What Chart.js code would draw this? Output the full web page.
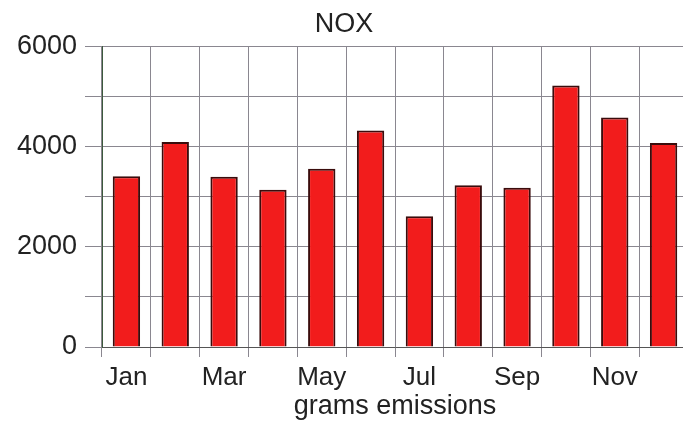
<!DOCTYPE html>
<html>
<head>
<meta charset="utf-8">
<script src="https://cdn.jsdelivr.net/npm/chart.js@4"></script>
<style>
  html, body { margin: 0; padding: 0; background: #fff; overflow: hidden; }
  #wrap { width: 700px; height: 423px; }
</style>
</head>
<body>
<div id="wrap"><canvas id="noxChart" width="700" height="423"></canvas></div>
<script>
// chart data
const months = ["Jan", "Feb", "Mar", "Apr", "May", "Jun", "Jul", "Aug", "Sep", "Oct", "Nov", "Dec"];
const noxValues = [3410, 4090, 3400, 3140, 3560, 4320, 2610, 3230, 3180, 5220, 4580, 4070];
const labelledMonths = ["Jan", "Mar", "May", "Jul", "Sep", "Nov"];
const yLabelValues = [0, 2000, 4000, 6000];

const FONT = "'Liberation Sans', Arial, Helvetica, sans-serif";

document.addEventListener("DOMContentLoaded", () => {
  const ctx = document.getElementById("noxChart").getContext("2d");

  new Chart(ctx, {
    type: "bar",
    data: {
      labels: months,
      datasets: [
        {
          label: "NOX",
          data: noxValues,
          backgroundColor: "#f21c1c",
          borderColor: "#3a0c0c",
          borderWidth: 2,
          borderSkipped: "bottom",
          barPercentage: 0.56,
          categoryPercentage: 1,
        },
      ],
    },
    options: {
      responsive: false,
      animation: false,
      layout: { padding: { left: 0, right: 12, top: 0, bottom: 0 } },
      plugins: {
        legend: { display: false },
        tooltip: { enabled: false },
        title: {
          display: true,
          text: "NOX",
          color: "#222",
          font: { family: FONT, size: 27, weight: "normal" },
          padding: { top: 8, bottom: 6 },
        },
      },
      scales: {
        x: {
          afterFit: function (scale) {
            scale.height = 76;
          },
          grid: {
            offset: true,
            color: "#8a8790",
            lineWidth: 1,
            tickLength: 10,
          },
          border: { color: "#555", width: 1 },
          ticks: {
            autoSkip: false,
            maxRotation: 0,
            padding: 5,
            color: "#222",
            font: { family: FONT, size: 26 },
            callback: function (value, index) {
              const name = months[index];
              return labelledMonths.includes(name) ? name : "";
            },
          },
          title: {
            display: true,
            text: "grams emissions",
            color: "#222",
            font: { family: FONT, size: 27 },
            padding: { top: 0, bottom: 0 },
          },
        },
        y: {
          min: 0,
          max: 6000,
          afterFit: function (scale) {
            scale.width = 102;
          },
          grid: {
            color: "#8a8790",
            lineWidth: 1,
            tickLength: 17,
          },
          border: { color: "#3d5a3d", width: 1 },
          ticks: {
            stepSize: 1000,
            padding: 8,
            color: "#222",
            font: { family: FONT, size: 27 },
            callback: function (value) {
              return yLabelValues.includes(value) ? String(value) : "";
            },
          },
        },
      },
    },
  });
});
</script>
</body>
</html>
